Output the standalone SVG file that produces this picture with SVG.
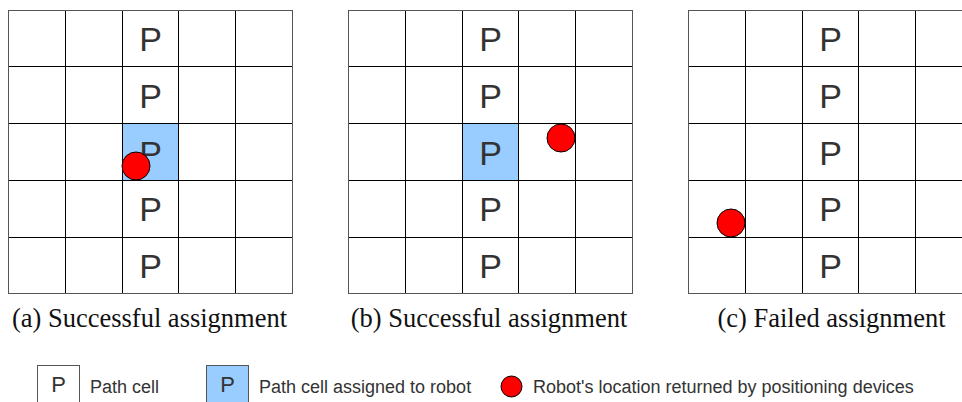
<svg xmlns="http://www.w3.org/2000/svg" xmlns:xlink="http://www.w3.org/1999/xlink" width="962" height="402" viewBox="0 0 962 402">
  <style>
    .grid line { stroke: #000; stroke-width: 1; }
    .frame { fill: none; stroke: #555; stroke-width: 1; }
    .assigned { fill: #99ccff; }
    .p { font-family: "Liberation Sans", Arial, sans-serif; font-size: 34px; fill: #333; text-anchor: middle; }
    .robot { fill: #ff0000; stroke: #000; stroke-width: 1; }
    .caption { font-family: "Liberation Serif", "Times New Roman", serif; font-size: 26.5px; fill: #111; text-anchor: middle; }
    .legend-box { stroke: #555; stroke-width: 1; }
    .legend-p { font-family: "Liberation Sans", Arial, sans-serif; font-size: 22px; fill: #333; text-anchor: middle; }
    .legend-text { font-family: "Liberation Sans", Arial, sans-serif; font-size: 18px; fill: #333; }
  </style>
  <defs>
    <!-- 5x5 grid of 57px cells -->
    <g id="grid5">
      <g class="grid">
        <line x1="65.5" y1="10.5" x2="65.5" y2="293.5"/>
        <line x1="122.5" y1="10.5" x2="122.5" y2="293.5"/>
        <line x1="178.5" y1="10.5" x2="178.5" y2="293.5"/>
        <line x1="235.5" y1="10.5" x2="235.5" y2="293.5"/>
        <line x1="8.5" y1="66.5" x2="292.5" y2="66.5"/>
        <line x1="8.5" y1="123.5" x2="292.5" y2="123.5"/>
        <line x1="8.5" y1="180.5" x2="292.5" y2="180.5"/>
        <line x1="8.5" y1="237.5" x2="292.5" y2="237.5"/>
      </g>
      <rect class="frame" x="8.5" y="10.5" width="284" height="283"/>
    </g>
    <!-- middle column of path cells -->
    <g id="pcol">
      <text class="p" x="150.5" y="51">P</text>
      <text class="p" x="150.5" y="108">P</text>
      <text class="p" x="150.5" y="165">P</text>
      <text class="p" x="150.5" y="221">P</text>
      <text class="p" x="150.5" y="278">P</text>
    </g>
  </defs>

  <!-- (a) robot reported inside the assigned path cell -->
  <g id="panel-a">
    <rect class="assigned" x="122.5" y="123.5" width="56" height="57"/>
    <use xlink:href="#grid5"/>
    <use xlink:href="#pcol"/>
    <circle class="robot" cx="136" cy="166" r="14"/>
    <text class="caption" x="149.5" y="327">(a) Successful assignment</text>
  </g>

  <!-- (b) robot reported next to the assigned path cell -->
  <g id="panel-b" transform="translate(340,0)">
    <rect class="assigned" x="122.5" y="123.5" width="56" height="57"/>
    <use xlink:href="#grid5"/>
    <use xlink:href="#pcol"/>
    <circle class="robot" cx="221" cy="138" r="14"/>
    <text class="caption" x="149" y="327">(b) Successful assignment</text>
  </g>

  <!-- (c) robot reported too far from the path -->
  <g id="panel-c" transform="translate(680,0)">
    <use xlink:href="#grid5"/>
    <use xlink:href="#pcol"/>
    <circle class="robot" cx="51" cy="223" r="14"/>
    <text class="caption" x="151.5" y="327">(c) Failed assignment</text>
  </g>

  <!-- legend -->
  <g id="legend">
    <g id="legend-path-cell">
      <rect class="legend-box" x="37.5" y="365.5" width="42" height="42" fill="#fff"/>
      <text class="legend-p" x="58.5" y="392">P</text>
      <text class="legend-text" x="90" y="393">Path cell</text>
    </g>
    <g id="legend-assigned-cell">
      <rect class="legend-box" x="206.5" y="365.5" width="42" height="42" fill="#99ccff"/>
      <text class="legend-p" x="227.5" y="392">P</text>
      <text class="legend-text" x="259" y="393">Path cell assigned to robot</text>
    </g>
    <g id="legend-robot">
      <circle class="robot" cx="511.5" cy="386.5" r="10.5"/>
      <text class="legend-text" x="533" y="393">Robot's location returned by positioning devices</text>
    </g>
  </g>
</svg>
